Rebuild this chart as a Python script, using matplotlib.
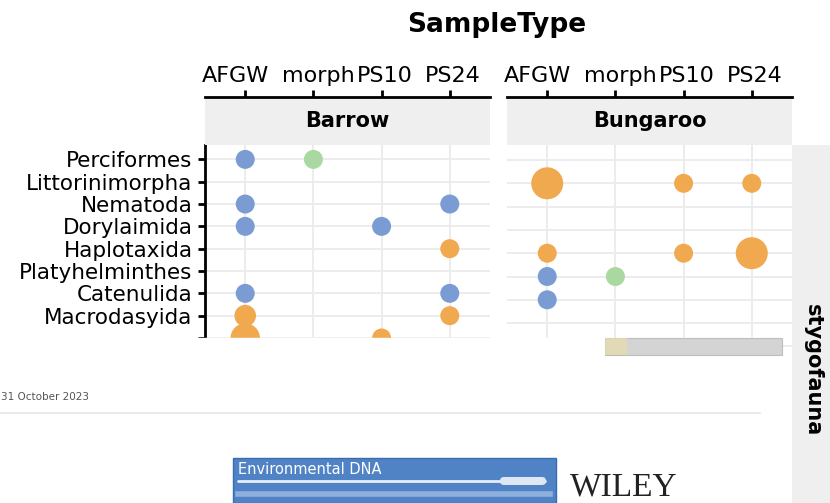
import matplotlib.pyplot as plt
from matplotlib.patches import Rectangle, FancyBboxPatch
from matplotlib.transforms import ScaledTranslation

# -----------------------------
# data
# -----------------------------
orders = ['Perciformes', 'Littorinimorpha', 'Nematoda', 'Dorylaimida', 'Haplotaxida',
          'Platyhelminthes', 'Catenulida', 'Macrodasyida', 'Harpacticoida']
n_visible_rows = 8   # last row is cut off in the picture
sample_types = ['AFGW', 'morph', 'PS10', 'PS24']
sites = ['Barrow', 'Bungaroo']

# one entry per dot: site, order, sample type, colour group, relative abundance
pt_site = ['Barrow'] * 13 + ['Bungaroo'] * 9
pt_order = ['Perciformes', 'Perciformes', 'Nematoda', 'Nematoda', 'Dorylaimida', 'Dorylaimida',
            'Haplotaxida', 'Catenulida', 'Catenulida', 'Macrodasyida', 'Macrodasyida',
            'Harpacticoida', 'Harpacticoida',
            'Littorinimorpha', 'Littorinimorpha', 'Littorinimorpha',
            'Haplotaxida', 'Haplotaxida', 'Haplotaxida',
            'Platyhelminthes', 'Platyhelminthes', 'Catenulida']
pt_type = ['AFGW', 'morph', 'AFGW', 'PS24', 'AFGW', 'PS10',
           'PS24', 'AFGW', 'PS24', 'AFGW', 'PS24',
           'AFGW', 'PS10',
           'AFGW', 'PS10', 'PS24',
           'AFGW', 'PS10', 'PS24',
           'AFGW', 'morph', 'AFGW']
pt_group = ['b', 'g', 'b', 'b', 'b', 'b',
            'o', 'b', 'b', 'o', 'o',
            'o', 'o',
            'o', 'o', 'o',
            'o', 'o', 'o',
            'b', 'g', 'b']
pt_abund = [1, 1, 1, 1, 1, 1,
            1, 1, 1, 1.4, 1,
            2.6, 1,
            3, 1, 1,
            1, 1, 3,
            1, 1, 1]

group_colors = {'b': '#7b9cd3', 'o': '#f0a94f', 'g': '#a9d9a0'}

W, H = 830, 503

def box(x0, y0, x1, y1):
    # pixel box (top-left origin) -> figure fraction rect
    return [x0 / W, 1 - y1 / H, (x1 - x0) / W, (y1 - y0) / H]

def size_pts(a):
    d_px = 19 + (a - 1) * 6.5
    return (d_px * 72 / 100) ** 2

row_px = 23.3
label_shift_px = [-10, 5, 3, 3]
fig = plt.figure(figsize=(W / 100, H / 100), dpi=100)
fig.patch.set_facecolor('white')

panels = {'Barrow': (205, 490, 338), 'Bungaroo': (507, 792, 503)}
xlim = (0.41, 4.59)
for site in sites:
    x0, x1, y1 = panels[site]
    ax = fig.add_axes(box(x0, 145, x1, y1))
    ax.set_facecolor('white')
    ax.set_xlim(*xlim)
    ax.set_ylim((y1 - 160) / row_px, -15 / row_px)
    ax.set_xticks(range(1, len(sample_types) + 1))
    ax.set_yticks(range(len(orders)))
    ax.grid(True, color='#ebebeb', lw=1.3)
    ax.set_axisbelow(True)
    for s in ['top', 'right', 'bottom']:
        ax.spines[s].set_visible(False)
    ax.tick_params(axis='x', length=0, labelbottom=False)
    if site == 'Barrow':
        ax.spines['left'].set_linewidth(2)
        ax.set_yticklabels(orders[:n_visible_rows] + [''] * (len(orders) - n_visible_rows),
                           fontsize=15.5)
        ax.tick_params(axis='y', length=5, width=2, pad=4)
    else:
        ax.spines['left'].set_visible(False)
        ax.tick_params(axis='y', length=0, labelleft=False)
    idx = [i for i, s in enumerate(pt_site) if s == site]
    xs = [sample_types.index(pt_type[i]) + 1 for i in idx]
    ys = [orders.index(pt_order[i]) for i in idx]
    cs = [group_colors[pt_group[i]] for i in idx]
    ss = [size_pts(pt_abund[i]) for i in idx]
    ax.scatter(xs, ys, s=ss, c=cs, linewidths=0, zorder=3)

    # facet strip with the shared x axis on top
    st = fig.add_axes(box(x0, 97, x1, 145))
    st.set_facecolor('#efefef')
    st.set_xlim(*xlim)
    st.set_ylim(0, 1)
    st.set_yticks([])
    st.xaxis.tick_top()
    st.set_xticks(range(1, len(sample_types) + 1))
    st.set_xticklabels(sample_types, fontsize=16)
    st.tick_params(axis='x', length=5, width=2, pad=3)
    for lab, dx in zip(st.get_xticklabels(), label_shift_px):
        lab.set_transform(lab.get_transform() + ScaledTranslation(dx / 100, 0, fig.dpi_scale_trans))
    for s in ['left', 'right', 'bottom']:
        st.spines[s].set_visible(False)
    st.spines['top'].set_linewidth(2)
    st.text(0.5, 0.5, site, transform=st.transAxes, ha='center', va='center',
            fontsize=15, fontweight='bold')

# right facet strip
rs = fig.add_axes(box(792, 145, 830, 503))
rs.set_facecolor('#efefef')
rs.set_xticks([]); rs.set_yticks([])
for s in rs.spines.values():
    s.set_visible(False)

# overlay in pixel space for the page debris around the crop
ov = fig.add_axes([0, 0, 1, 1], zorder=10)
ov.set_xlim(0, W)
ov.set_ylim(H, 0)
ov.axis('off')
ov.patch.set_alpha(0)
ov.add_patch(Rectangle((0, 338), 780, 170, color='white', zorder=1))
ov.text(813, 370, 'stygofauna', rotation=270, ha='center', va='center',
        fontsize=15, fontweight='bold', zorder=2)
ov.text(497, 32, 'SampleType', ha='center', va='baseline', fontsize=19, fontweight='bold')

# scrollbar-like strip
ov.add_patch(Rectangle((605, 338), 177, 17, facecolor='#d4d4d4', edgecolor='#bdbdbd', lw=0.8, zorder=3))
ov.add_patch(Rectangle((605, 338), 22, 17, facecolor='#e6dcb0', edgecolor='none', alpha=0.8, zorder=4))

# page date and rule
ov.text(1, 397, '31 October 2023', ha='left', va='center', fontsize=7.5, color='#555555', zorder=3)
ov.plot([0, 760], [413, 413], color='#e6e6e6', lw=1.2, zorder=3)

# journal banner
ov.add_patch(Rectangle((233, 458), 323, 45, facecolor='#4f83c5', edgecolor='#3a6db0', lw=1, zorder=3))
ov.text(238, 469, 'Environmental DNA', ha='left', va='center', fontsize=10.5, color='white', zorder=4)
ov.plot([238, 545], [481, 481], color='#e8eef8', lw=2, zorder=4, solid_capstyle='round')
ov.add_patch(FancyBboxPatch((500, 477), 46, 8, boxstyle='round,pad=0,rounding_size=4',
                            facecolor='#dfe7f4', edgecolor='none', zorder=5))
ov.plot([238, 550], [494, 494], color='#8fb0dd', lw=4, zorder=4)
ov.text(570, 496, 'WILEY', ha='left', va='baseline', fontsize=24, color='#222222',
        family='Liberation Serif', zorder=3)

plt.savefig('out.png', dpi=100)
